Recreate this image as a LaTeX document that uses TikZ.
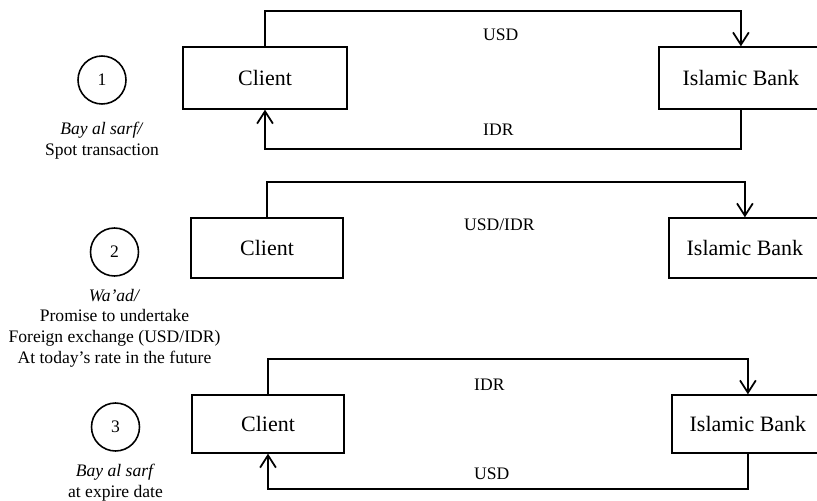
\documentclass[tikz,border=0pt]{standalone}
\usepackage{fontspec}
\setmainfont{Liberation Serif}
\usetikzlibrary{arrows.meta,positioning}

\tikzset{
	party/.style={draw, line width=0.8pt, minimum width=3.04cm, minimum height=1.2cm, font=\fontsize{12.5}{15}\selectfont},
	stepnum/.style={draw, circle, line width=0.9pt, minimum size=0.96cm, inner sep=0pt, font=\fontsize{10}{12}\selectfont},
	caption/.style={align=center, font=\fontsize{10}{11.8}\selectfont},
	currency/.style={anchor=west, font=\fontsize{10}{12}\selectfont},
	flow/.style={line width=1pt, -{Straight Barb[length=7pt,width=9pt,line width=1pt]}}
}

\begin{document}
\begin{tikzpicture}[x=0.02cm, y=-0.02cm]
	\useasboundingbox (0,0) rectangle (817,500);
	
	% spot exchange
	\node[stepnum](N1) at (102,80){1};
	\node[caption, below of=N1, node distance=1.21cm](D1){\textit{Bay al sarf/}\\Spot transaction};
	
	\node[party, minimum width=3.28cm, minimum height=1.24cm](C1) at (265,78){Client};
	\node[party, minimum width=3.28cm, minimum height=1.24cm, right of=C1, node distance=9.52cm](B1){Islamic Bank};
	
	\coordinate[above of=C1, node distance=1.34cm](T1);
	\coordinate[below of=C1, node distance=1.42cm](U1);
	\draw[flow] (C1.north) -- (T1) -| (B1.north);
	\draw[flow] (B1.south) |- (U1) -- (C1.south);
	
	\node[currency](USD1) at (477,35){USD};
	\node[currency](IDR1) at (477,130){IDR};
	
	% promise
	\node[stepnum](N2) at (114.5,252){2};
	\node[caption, below of=N2, node distance=1.52cm](D2){\textit{Wa'ad/}\\Promise to undertake\\Foreign exchange (USD/IDR)\\At today’s rate in the future};
	
	\node[party](C2) at (267,248){Client};
	\node[party, right of=C2, node distance=9.56cm](B2){Islamic Bank};
	
	\coordinate[above of=C2, node distance=1.32cm](T2);
	\draw[flow] (C2.north) -- (T2) -| (B2.north);
	
	\node[currency](FX2) at (458,225){USD/IDR};
	
	% settlement
	\node[stepnum](N3) at (115.5,427){3};
	\node[caption, below of=N3, node distance=1.12cm](D3){\textit{Bay al sarf}\\at expire date};
	
	\node[party, minimum height=1.16cm](C3) at (268,424){Client};
	\node[party, minimum height=1.16cm, right of=C3, node distance=9.6cm](B3){Islamic Bank};
	
	\coordinate[above of=C3, node distance=1.3cm](T3);
	\coordinate[below of=C3, node distance=1.3cm](U3);
	\draw[flow] (C3.north) -- (T3) -| (B3.north);
	\draw[flow] (B3.south) |- (U3) -- (C3.south);
	
	\node[currency](IDR3) at (468,385){IDR};
	\node[currency](USD3) at (468,474){USD};
\end{tikzpicture}
\end{document}
